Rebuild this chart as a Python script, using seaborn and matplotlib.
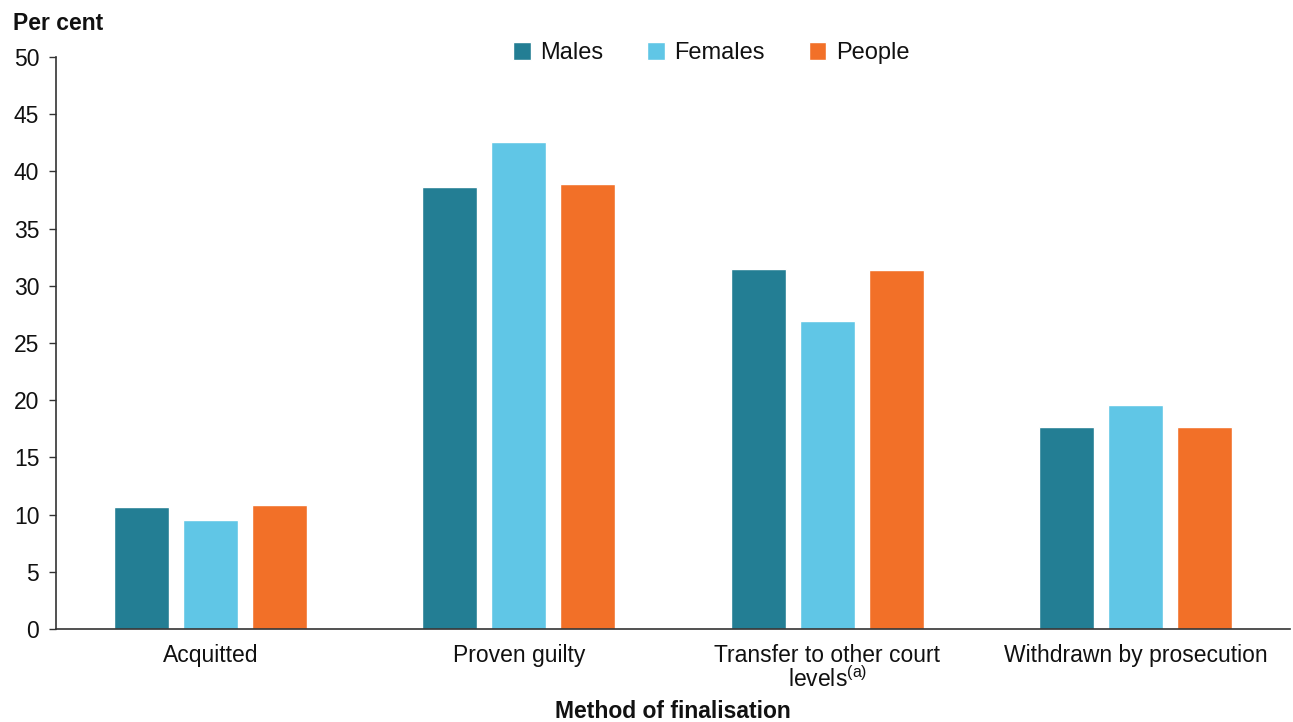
import pandas as pd
import matplotlib.pyplot as plt
import seaborn as sns

# datos
categories = ["Acquitted", "Proven guilty", "Transfer to other court\nlevels$^{(a)}$", "Withdrawn by prosecution"]
groups = ["Males", "Females", "People"]
males = [10.7, 38.6, 31.5, 17.7]
females = [9.5, 42.6, 26.9, 19.6]
people = [10.8, 38.9, 31.4, 17.7]
colors = ["#237E94", "#60C6E6", "#F27028"]

df = pd.DataFrame({
    "category": categories * 3,
    "group": ["Males"] * 4 + ["Females"] * 4 + ["People"] * 4,
    "value": males + females + people,
})

sns.set_style("white")
plt.rcParams["font.family"] = ["Liberation Sans", "DejaVu Sans"]
plt.rcParams["mathtext.fontset"] = "custom"
plt.rcParams["mathtext.rm"] = "Liberation Sans"
plt.rcParams["mathtext.it"] = "Liberation Sans"
plt.rcParams["text.color"] = "#111111"
plt.rcParams["xtick.color"] = "#111111"
plt.rcParams["ytick.color"] = "#111111"

fig = plt.figure(figsize=(12.93, 7.22), dpi=100)
ax = fig.add_axes([0.0433, 0.1288, 0.9544, 0.7922])

sns.barplot(data=df, x="category", y="value", hue="group", hue_order=groups,
            palette=colors, width=0.67, gap=0.2, saturation=1, ax=ax)

ax.set_ylim(0, 50)
ax.set_yticks(range(0, 51, 5))
ax.set_xlim(-0.5, 3.5)
ax.tick_params(axis="y", labelsize=16.5, length=5, width=1, color="#333333", left=True, pad=7)
ax.tick_params(axis="x", labelsize=16.5, length=0, pad=11)
for lab in ax.get_xticklabels():
    lab.set_linespacing(0.95)
for s in ["top", "right"]:
    ax.spines[s].set_visible(False)
for s in ["left", "bottom"]:
    ax.spines[s].set_color("#333333")
    ax.spines[s].set_linewidth(1.2)

ax.set_xlabel("")
ax.set_ylabel("")
fig.text(0.5205, 0.005, "Method of finalisation", fontsize=16.5, fontweight="bold",
         ha="center", va="baseline")
fig.text(0.01, 0.968, "Per cent", fontsize=16.5, fontweight="bold", va="center", ha="left")

ax.legend(loc="upper center", bbox_to_anchor=(0.531, 1.063), ncol=3, frameon=False,
          fontsize=17, handlelength=0.75, handleheight=0.75, handletextpad=0.4,
          columnspacing=1.85)

plt.savefig("out.png", dpi=100)
